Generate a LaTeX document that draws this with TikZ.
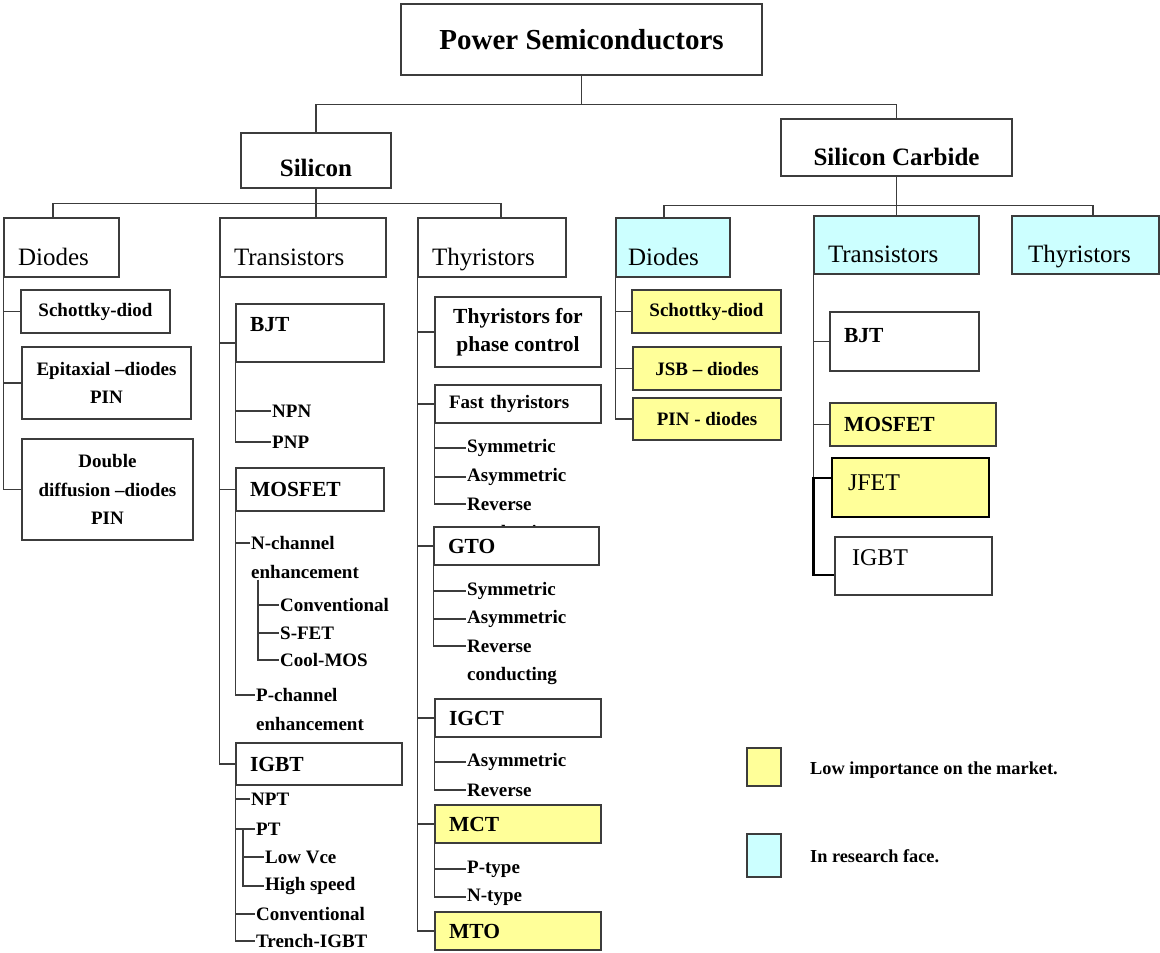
\documentclass[tikz,border=0pt]{standalone}
\usepackage{fontspec}
\setmainfont{Liberation Serif}
\definecolor{lowimp}{HTML}{FFFF99}
\definecolor{research}{HTML}{CCFFFF}
\definecolor{boxline}{HTML}{3C3C3C}
\newcommand\titlefont{\fontsize{29}{33}\selectfont\bfseries}
\newcommand\matfont{\fontsize{25}{29}\selectfont\bfseries}
\newcommand\grpfont{\fontsize{25}{29}\selectfont}
\newcommand\hdfont{\fontsize{21.5}{28}\selectfont\bfseries}
\newcommand\itfont{\fontsize{19}{28.5}\selectfont\bfseries}
\newcommand\legfont{\fontsize{18.3}{22}\selectfont\bfseries}
\newcommand\sicfont{\fontsize{24}{28}\selectfont}
\newcommand\nudge[2]{\raisebox{#1}[\height][\depth]{#2}}
\tikzset{
  box/.style={draw=boxline, fill=white, line width=1.1pt, inner ysep=0pt},
  cbox/.style={box, align=center, inner xsep=0pt},
  lbox/.style={box, align=left, inner xsep=14pt},
  kgroup/.style={lbox, font=\grpfont, minimum height=59pt},
  khead/.style={lbox, font=\hdfont},
  kitem/.style={font=\itfont, inner sep=1pt, anchor=west, align=left},
  kitemtwo/.style={kitem, anchor=north west},
  klow/.style={fill=lowimp}, kres/.style={fill=research},
  tree/.style={draw=boxline, line width=1.1pt},
  trunk/.style={draw=black, line width=2.4pt},
}
\begin{document}
\begin{tikzpicture}[x=1pt, y=-1pt]
  \useasboundingbox (0,0) rectangle (1160,953);
  \node[cbox, font=\titlefont, minimum width=361pt, minimum height=71pt] (ps) at (581.5,39.5) {Power Semiconductors};
  \node[cbox, font=\matfont, minimum width=150pt, minimum height=55pt] (si) at (316,160.5) {\nudge{-7.5pt}{Silicon}};
  \node[cbox, font=\matfont, minimum width=231pt, minimum height=57pt] (sic) at (896.5,147.5) {\nudge{-9.5pt}{Silicon Carbide}};

  \node[kgroup, text width=87pt] (sdio) at (61.5,247.5) {\nudge{-9pt}{Diodes}};
  \node[kgroup, text width=138pt] (str) at (303,247.5) {\nudge{-10pt}{Transistors}};
  \node[kgroup, text width=120pt] (sthy) at (492,247.5) {\nudge{-12pt}{Thyristors}};
  \node[kgroup, kres, text width=90pt, inner xsep=12pt] (cdio) at (673,247.5) {\nudge{-9pt}{Diodes}};
  \node[kgroup, kres, text width=137pt, minimum height=58pt] (ctr) at (896.5,245) {\nudge{-9pt}{Transistors}};
  \node[kgroup, kres, text width=115pt, inner xsep=16pt, minimum height=58pt] (cthy) at (1085.5,245) {\nudge{-12pt}{Thyristors}};

  \node[cbox, font=\itfont, minimum width=149pt, minimum height=43pt] (sch) at (95.5,311.5) {Schottky-diod};
  \node[cbox, font=\itfont, minimum width=169pt, minimum height=72pt] (epi) at (106.5,383) {Epitaxial –diodes\\PIN};
  \node[cbox, font=\itfont, minimum width=171pt, minimum height=101pt] (dbl) at (107.5,489.5) {Double\\diffusion –diodes\\PIN};

  \node[khead, text width=120pt, minimum height=58pt] (bjt) at (310,333) {\nudge{8pt}{BJT}};
  \node[kitem] (npn) at (271,411) {NPN};
  \node[kitem] (pnp) at (271,442) {PNP};
  \node[khead, text width=120pt, minimum height=43pt] (mos) at (310,489.5) {MOSFET};
  \node[kitemtwo] (nch) at (250,535.5) {N-channel\\enhancement};
  \node[kitem] (conv) at (279,605) {Conventional};
  \node[kitem] (sfet) at (279,633) {S-FET};
  \node[kitem] (coolmos) at (279,660) {Cool-MOS};
  \node[kitemtwo] (pch) at (255,687.5) {P-channel\\enhancement};
  \node[khead, text width=138pt, minimum height=42pt] (igbt) at (319,764) {IGBT};
  \node[kitem] (npt) at (250,799) {NPT};
  \node[kitem] (pt) at (255,829) {PT};
  \node[kitem] (lowvce) at (264,857) {Low Vce};
  \node[kitem] (highspd) at (264,886) {High speed};
  \node[kitem] (igconv) at (255,914) {Conventional};
  \node[kitem] (trench) at (255,941) {Trench-IGBT};

  \node[cbox, font=\hdfont, minimum width=166pt, minimum height=70pt] (tpc) at (518,332) {Thyristors for\\phase control};
  \node[lbox, font=\itfont, text width=138pt, minimum height=38pt] (fast) at (518,404) {Fast thyristors};
  \node[kitem] (fsym) at (466,448) {Symmetric};
  \node[kitem] (fasym) at (466,477) {Asymmetric};
  \node[kitemtwo] (frev) at (466,496.5) {Reverse\\conducting};
  \node[khead, text width=137pt, minimum height=38pt] (gto) at (516.5,546) {GTO};
  \node[kitem] (gsym) at (466,591) {Symmetric};
  \node[kitem] (gasym) at (466,619) {Asymmetric};
  \node[kitemtwo] (grev) at (466,638.5) {Reverse\\conducting};
  \node[khead, text width=138pt, minimum height=38pt] (igct) at (518,718) {IGCT};
  \node[kitem] (iasym) at (466,762) {Asymmetric};
  \node[kitem] (irev) at (466,790) {Reverse};
  \node[khead, klow, text width=138pt, minimum height=38pt] (mct) at (518,824) {MCT};
  \node[kitem] (ptype) at (466,869) {P-type};
  \node[kitem] (ntype) at (466,897) {N-type};
  \node[khead, klow, text width=138pt, minimum height=38pt] (mto) at (518,931) {MTO};

  \node[cbox, klow, font=\itfont, minimum width=149pt, minimum height=43pt] (csch) at (706.5,311.5) {Schottky-diod};
  \node[cbox, klow, font=\itfont, minimum width=148pt, minimum height=43pt] (cjsb) at (707,368.5) {JSB – diodes};
  \node[cbox, klow, font=\itfont, minimum width=148pt, minimum height=42pt] (cpin) at (707,419) {PIN - diodes};

  \node[khead, text width=121pt, minimum height=59pt] (cbjt) at (904.5,341.5) {\nudge{6pt}{BJT}};
  \node[khead, klow, text width=138pt, minimum height=43pt] (cmosfet) at (913,424.5) {MOSFET};
  \node[lbox, klow, font=\sicfont, draw=black, line width=1.8pt, text width=125pt, inner xsep=16pt, minimum height=59pt] (cjfet) at (910.5,487.5) {\nudge{5pt}{JFET}};
  \node[lbox, font=\sicfont, text width=123pt, inner xsep=17pt, minimum height=58pt] (cigbt) at (913.5,566) {\nudge{8pt}{IGBT}};

  \node[box, klow, minimum width=34pt, minimum height=38pt] (lowkey) at (764,767) {};
  \node[font=\legfont, anchor=west, inner sep=1pt] (lowtext) at (809,770) {Low importance on the market.};
  \node[box, kres, minimum width=34pt, minimum height=43pt] (reskey) at (764,855.5) {};
  \node[font=\legfont, anchor=west, inner sep=1pt] (restext) at (809,856) {In research face.};

  \draw[tree] (ps.south) -- ++(0,29) coordinate (psbus);
  \draw[tree] (si.north) |- (psbus) -| (sic.north);
  \draw[tree] (si.south) -- ++(0,14.5) coordinate (sibus);
  \draw[tree] ([xshift=-8.5pt]sdio.north) |- (sibus) -| ([xshift=9pt]sthy.north);
  \draw[tree] (sibus) -- (sibus |- str.north);
  \draw[tree] (sic.south) -- ++(0,29) coordinate (sicbus);
  \draw[tree] (sicbus) -- (ctr.north);
  \draw[tree] ([xshift=-9pt]cdio.north) |- (sicbus) -| ([xshift=7.5pt]cthy.north);

  \foreach \k in {sch,epi,dbl}
    \draw[tree] (sdio.south west) |- (\k.west);

  \draw[tree] (str.south west) |- ([yshift=-10pt]bjt.west);
  \draw[tree] (str.south west) |- (mos.west);
  \draw[tree] (str.south west) |- (igbt.west);
  \foreach \k in {npn,pnp}
    \draw[tree] (bjt.south west) |- (\k.west);
  \draw[tree] (mos.south west) |- ([yshift=-7.5pt]nch.north west);
  \draw[tree] (mos.south west) |- ([yshift=-7.5pt]pch.north west);
  \foreach \k in {conv,sfet,coolmos}
    \draw[tree] ([xshift=8pt]nch.south west) |- (\k.west);
  \foreach \k in {npt,pt,igconv,trench}
    \draw[tree] (igbt.south west) |- (\k.west);
  \foreach \k in {lowvce,highspd}
    \draw[tree] ([xshift=-12pt]pt.west) |- (\k.west);

  \foreach \k in {tpc,fast,gto,igct,mct,mto}
    \draw[tree] (sthy.south west) |- (\k.west);
  \foreach \k in {fsym,fasym}
    \draw[tree] (fast.south west) |- (\k.west);
  \draw[tree] (fast.south west) |- ([yshift=-7.5pt]frev.north west);
  \foreach \k in {gsym,gasym}
    \draw[tree] (gto.south west) |- (\k.west);
  \draw[tree] (gto.south west) |- ([yshift=-7.5pt]grev.north west);
  \foreach \k in {iasym,irev}
    \draw[tree] (igct.south west) |- (\k.west);
  \foreach \k in {ptype,ntype}
    \draw[tree] (mct.south west) |- (\k.west);

  \foreach \k in {csch,cjsb,cpin}
    \draw[tree] (cdio.south west) |- (\k.west);
  \draw[tree] (ctr.south west) |- (cbjt.west);
  \draw[tree] (ctr.south west) |- (cmosfet.west);
  \draw[tree] (ctr.south west) |- ([yshift=9.5pt]cjfet.west);
  \draw[trunk] ([yshift=9.5pt]cjfet.west) -- ([yshift=9.5pt]cjfet.west -| ctr.south west) |- ([yshift=-9pt]cigbt.west);
\end{tikzpicture}
\end{document}
